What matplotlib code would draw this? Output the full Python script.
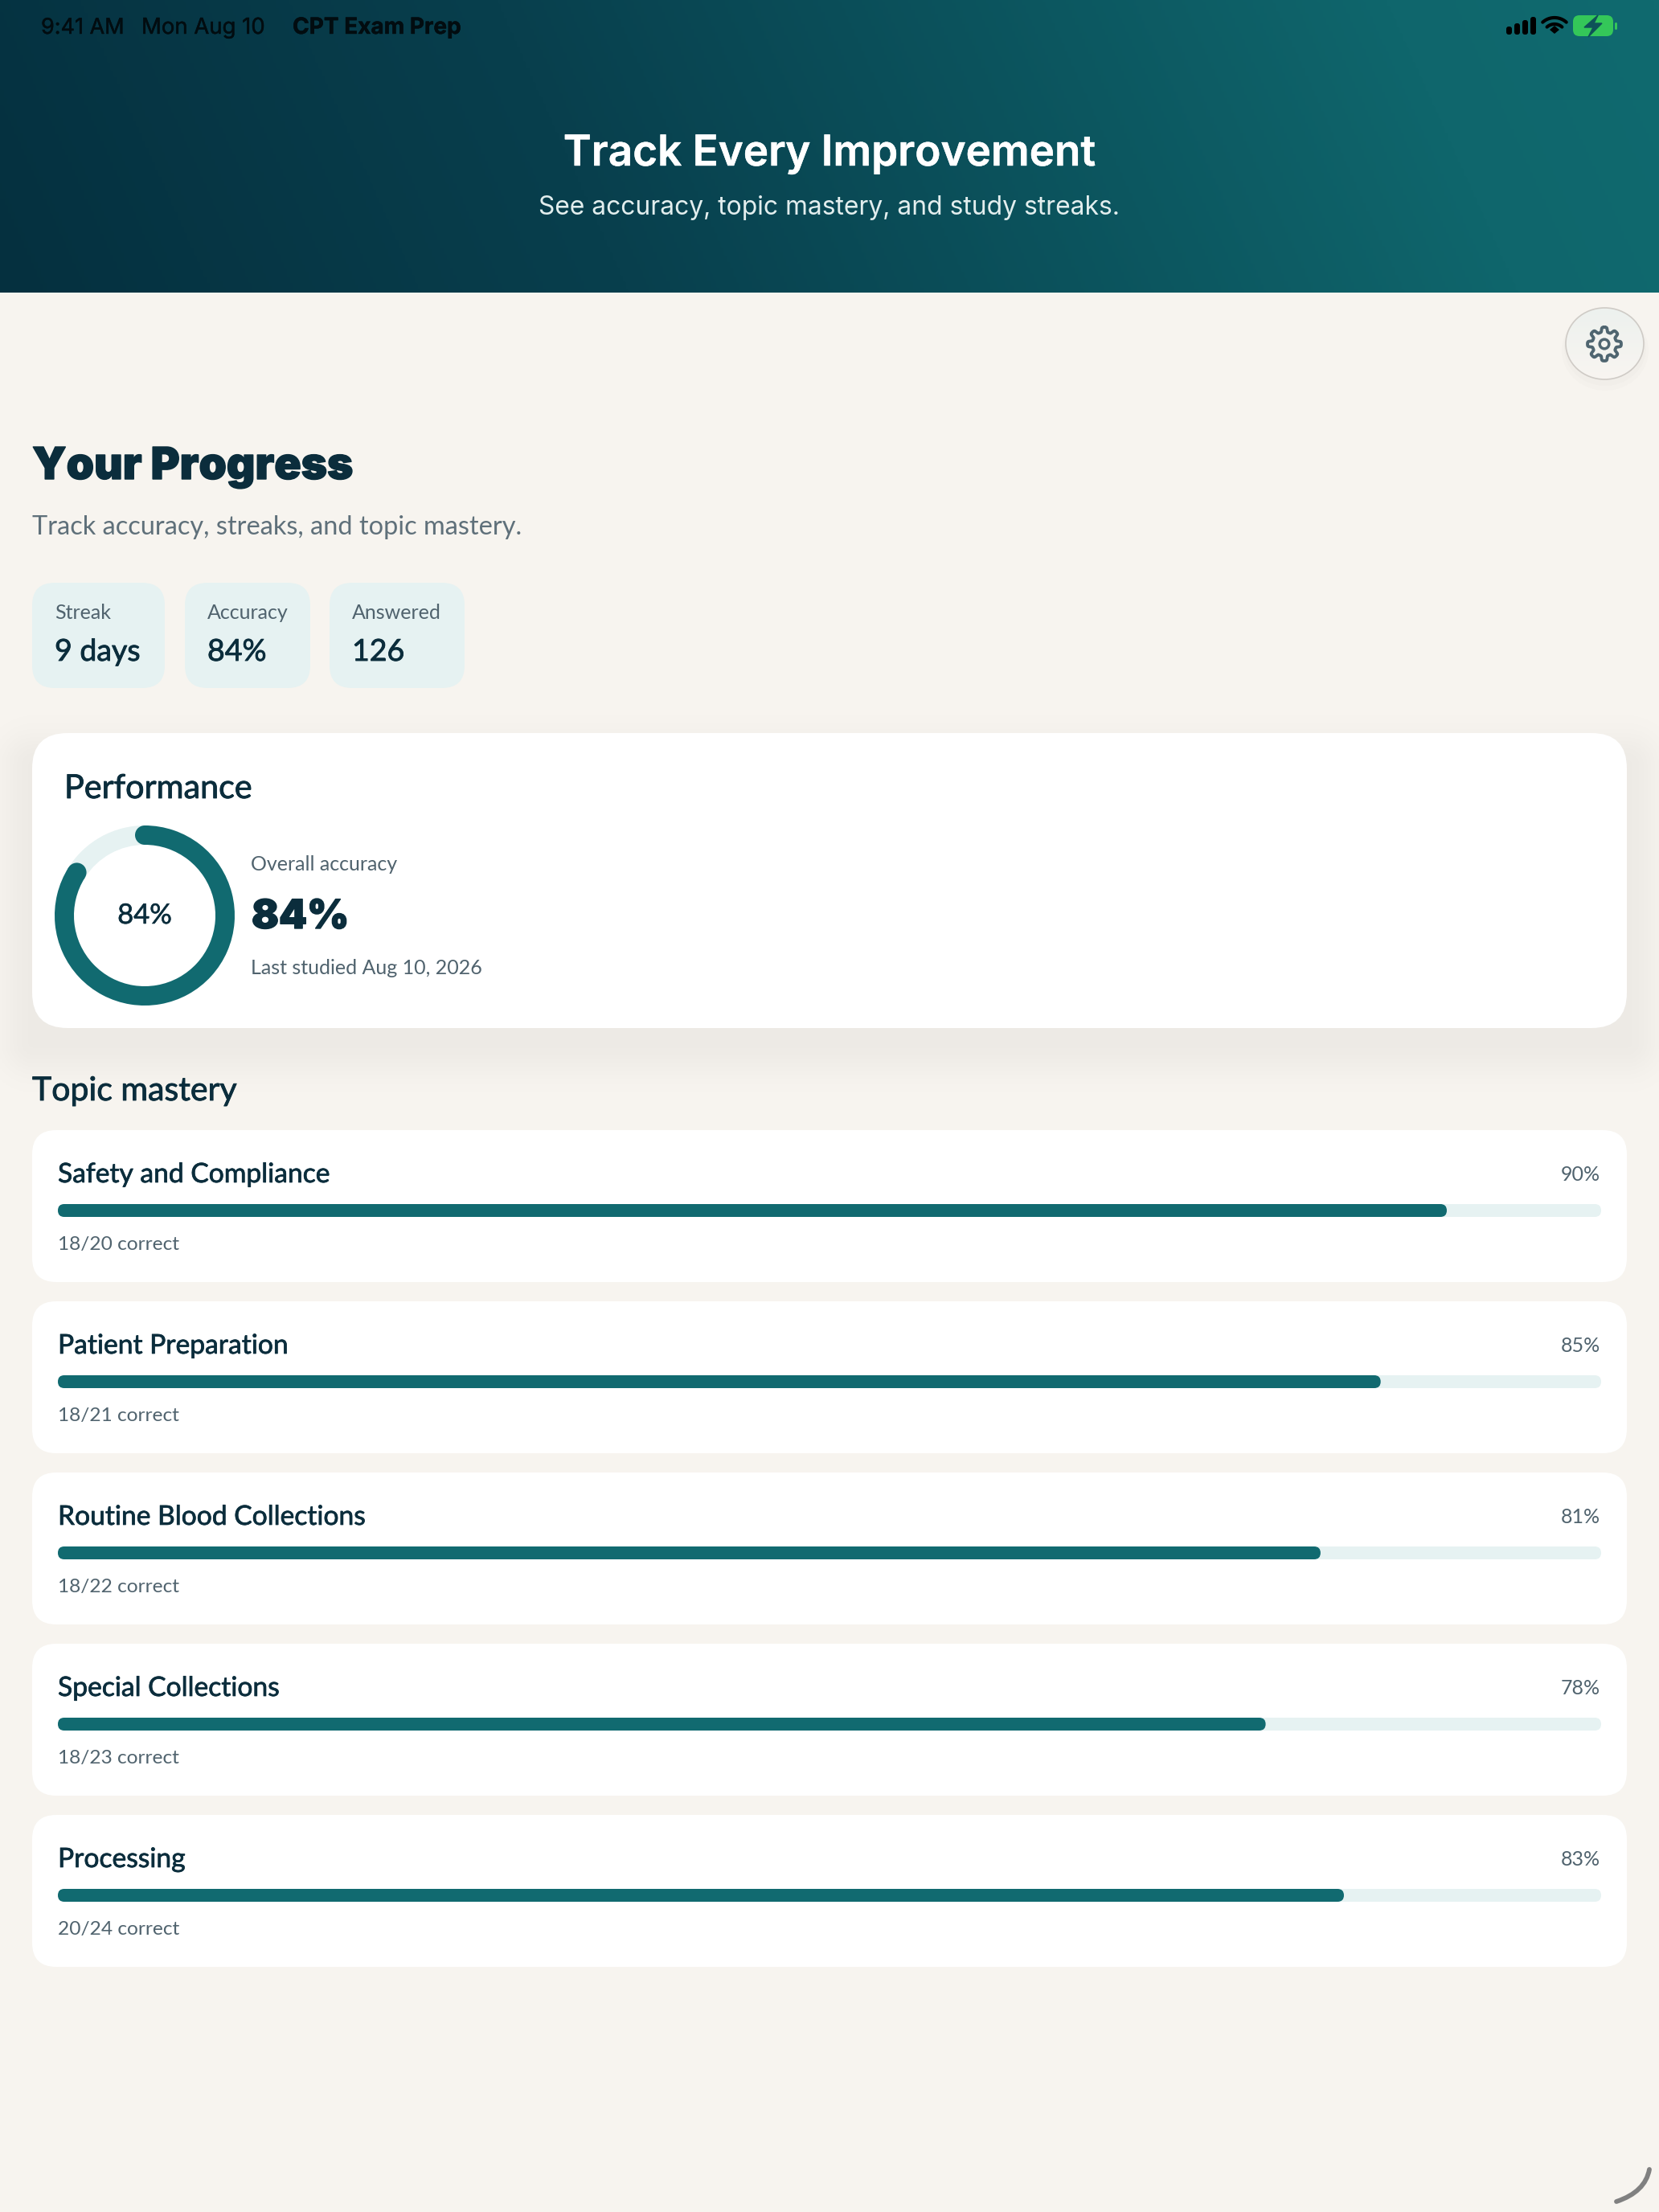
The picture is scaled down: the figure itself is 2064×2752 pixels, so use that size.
import numpy as np
import matplotlib
matplotlib.use('Agg')
import matplotlib.pyplot as plt
import matplotlib.patheffects as pe
from matplotlib.patches import FancyBboxPatch, Circle, Ellipse, PathPatch
from matplotlib.path import Path
from matplotlib.colors import LinearSegmentedColormap

W, H = 2064, 2752

# chart values
status_left = ['9:41 AM', 'Mon Aug 10']
app_name = 'CPT Exam Prep'
signal_heights = [10, 14, 18, 22]
chip_labels = ['Streak', 'Accuracy', 'Answered']
chip_values = ['9 days', '84%', '126']
overall_pct = 84
unfilled_pct = 16
topics = ['Safety and Compliance', 'Patient Preparation', 'Routine Blood Collections',
          'Special Collections', 'Processing']
pct_labels = ['90%', '85%', '81%', '78%', '83%']
correct = [18, 18, 18, 18, 20]
totals = [20, 21, 22, 23, 24]

BG = '#f7f4ef'
DARK = '#0b2d3c'
GREY = '#50636e'
TEAL = '#116a70'
PALE = '#e6f2f2'
UI = ['Inter', 'DejaVu Sans']

plt.rcParams['font.family'] = ['Lato', 'DejaVu Sans']

fig = plt.figure(figsize=(W / 100, H / 100), dpi=100, facecolor=BG)
ax = fig.add_axes([0, 0, 1, 1])
ax.set_xlim(0, W)
ax.set_ylim(H, 0)
ax.axis('off')


def rounded(x0, y0, x1, y1, r, **kw):
    return FancyBboxPatch((x0 + r, y0 + r), x1 - x0 - 2 * r, y1 - y0 - 2 * r,
                          boxstyle='round,pad=%g,rounding_size=%g' % (r, r), lw=0, **kw)


def label(x, y, s, px, color=DARK, weight='normal', ha='left', family=None, thick=0, **kw):
    t = ax.text(x, y, s, fontsize=px * 0.72, color=color, weight=weight, ha=ha, va='baseline',
                family=family if family else ['Lato', 'DejaVu Sans'], zorder=10, **kw)
    if thick:
        t.set_path_effects([pe.withStroke(linewidth=thick, foreground=color)])
    return t


# header gradient
yy, xx = np.mgrid[0:364:182j, 0:W:516j]
grad = (xx + (364 - yy) * 0.45) / (W + 364 * 0.45)
cmap = LinearSegmentedColormap.from_list('hdr', [(0, '#05303f'), (0.35, '#083f4d'), (0.85, '#0f666c'), (1, '#106a6f')])
ax.imshow(grad, extent=(0, W, 364, 0), cmap=cmap, vmin=0, vmax=1, aspect='auto', zorder=1, interpolation='bilinear')

# status bar
label(51, 42, status_left[0], 27, color='#020c10', family=UI, thick=0.3)
label(176, 42, status_left[1], 27.5, color='#020c10', family=UI, thick=0.3)
label(364, 42, app_name, 28, color='#020c10', weight='bold', family=UI, thick=0.3)
for i, h in enumerate(signal_heights):
    ax.add_patch(rounded(1874 + i * 10, 43 - h, 1881 + i * 10, 43, 3, color='black', zorder=5))
for r in (22, 14):
    th = np.radians(np.linspace(48, 132, 30))
    ax.plot(1934 + r * np.cos(th), 44 - r * np.sin(th) + 0, color='black', lw=3.0, solid_capstyle='round', zorder=5)
ax.add_patch(PathPatch(Path([(1928, 37), (1934, 32), (1940, 37), (1934, 42), (1928, 37)]), color='black', lw=0, zorder=5))
ax.add_patch(rounded(1957, 19, 2007, 45, 8, color='#34c759', zorder=5))
ax.add_patch(rounded(2009, 28, 2012, 37, 1.5, color='#34c759', zorder=5))
ax.add_patch(PathPatch(Path([(1988, 19), (1971, 34), (1982, 34), (1976, 46), (1993, 29), (1983, 29), (1988, 19)]),
                       fc='#0e5258', ec='#0e5258', lw=1, zorder=6))

# header text
label(1032, 206, 'Track Every Improvement', 53, color='white', weight='semibold', ha='center', family=UI, thick=0.3)
label(1032, 267, 'See accuracy, topic mastery, and study streaks.', 31.8, color='#e2eeee', ha='center', family=UI)

# settings button
ax.add_patch(Ellipse((1997, 436), 108, 100, fc='#000000', alpha=0.010, lw=0, zorder=2))
ax.add_patch(Ellipse((1997, 433), 102, 94, fc='#000000', alpha=0.010, lw=0, zorder=2))
btn = Ellipse((1996.5, 427.5), 97, 89, fc='none', ec='none')
ax.add_patch(btn)
bcm = LinearSegmentedColormap.from_list('btn', ['#edf1ee', '#f8f5f1'])
im = ax.imshow(np.linspace(0, 1, 100).reshape(-1, 1), extent=(1948, 2045, 472, 383), cmap=bcm, aspect='auto', zorder=3)
im.set_clip_path(btn)
ax.add_patch(Ellipse((1996.5, 427.5), 97, 89, fc='none', ec='#cfcbc6', lw=1.2, zorder=4))
th = np.linspace(0, 2 * np.pi, 400)
rg = 18 + 3 * np.tanh(2.5 * np.cos(8 * th))
ax.plot(1996 + rg * np.sin(th), 428 - rg * np.cos(th), color='#4f6570', lw=2.8, zorder=5)
ax.add_patch(Circle((1996, 428), 5.8, fc='none', ec='#4f6570', lw=2.5, zorder=5))

# title block
label(40, 596, 'Your Progress', 55, weight='black', family=UI, thick=1.0)
label(40, 665, 'Track accuracy, streaks, and topic mastery.', 32.5, color='#5f707a')

# chips
chip_x = [(40, 205), (230, 386), (410, 578)]
for (x0, x1), lab, val in zip(chip_x, chip_labels, chip_values):
    ax.add_patch(rounded(x0, 725, x1, 856, 28, color=PALE, zorder=2))
    label(x0 + 28, 770, lab, 25, color=GREY)
    label(x0 + 28, 822, val, 37.5, thick=0.6)

# performance card with a soft shadow, offset downwards
sy, sx = np.mgrid[820:1420:2, 0:W:2]
dx = np.maximum(np.maximum(40 - sx, sx - 2024), 0)
dy = np.maximum(np.maximum(950 - sy, sy - 1297), 0)
shadow = np.zeros(sx.shape + (4,))
shadow[..., 3] = 0.04 * np.exp(-(np.hypot(dx, dy) / 40.0) ** 2)
ax.imshow(shadow, extent=(0, W, 1420, 820), aspect='auto', zorder=2, interpolation='bilinear')
ax.add_patch(rounded(40, 912, 2024, 1279, 44, color='white', zorder=3))
label(80, 993, 'Performance', 41.3, thick=0.6)

ring = fig.add_axes([68 / W, 1 - 1251 / H, 224 / W, 224 / H], zorder=5)
ring.pie([overall_pct, unfilled_pct], colors=[TEAL, PALE], startangle=90, counterclock=False, radius=1,
         wedgeprops=dict(width=24 / 112, lw=0))
ring.set_xlim(-1, 1)
ring.set_ylim(-1, 1)
ring.axis('off')
mid = 1 - 12 / 112
for a in (90, 90 - 360 * overall_pct / (overall_pct + unfilled_pct)):
    ring.add_patch(Circle((mid * np.cos(np.radians(a)), mid * np.sin(np.radians(a))), 12 / 112, color=TEAL, lw=0))

label(180, 1149, '84%', 34.5, ha='center', thick=0.4)
label(312, 1083, 'Overall accuracy', 25, color=GREY)
label(313, 1155, '84%', 50, weight='black', family=UI, thick=1.0)
label(312, 1212, 'Last studied Aug 10, 2026', 25, color=GREY)

# topic mastery
label(40, 1369, 'Topic mastery', 41, thick=0.6)
BAR_X0, BAR_X1 = 72, 1992
for i, (name, pl, c, n) in enumerate(zip(topics, pct_labels, correct, totals)):
    top = 1406 + 213 * i
    ax.add_patch(rounded(40, top, 2024, top + 189, 30, color='white', zorder=2))
    label(72, top + 65, name, 33.6, thick=0.5)
    label(1991, top + 63, pl, 25, color=GREY, ha='right')
    label(72, top + 149, '%d/%d correct' % (c, n), 24.5, color=GREY)

    bax = fig.add_axes([BAR_X0 / W, 1 - (top + 108) / H, (BAR_X1 - BAR_X0) / W, 16 / H], zorder=5)
    bax.set_xlim(0, 100)
    bax.set_ylim(0, 1)
    bax.axis('off')
    value = 100 * c / n
    track = bax.barh(0.5, 100, height=1, color=PALE)[0]
    fill = bax.barh(0.5, value, height=1, color=TEAL)[0]
    for b, v in ((track, 100), (fill, value)):
        clip = rounded(BAR_X0, top + 92, BAR_X0 + (BAR_X1 - BAR_X0) * v / 100, top + 108, 8)
        clip.set_transform(ax.transData)
        b.set_clip_path(clip)

# pencil/scroll handle in the corner
ax.add_patch(PathPatch(Path([(2052, 2699), (2047, 2727), (2011, 2739)], [Path.MOVETO, Path.CURVE3, Path.CURVE3]),
                       fc='none', ec='#808080', lw=4.2, capstyle='round', zorder=5))

# imshow changes the limits, so put the pixel grid back
ax.set_xlim(0, W)
ax.set_ylim(H, 0)

fig.savefig('out.png', dpi=100, facecolor=BG)
